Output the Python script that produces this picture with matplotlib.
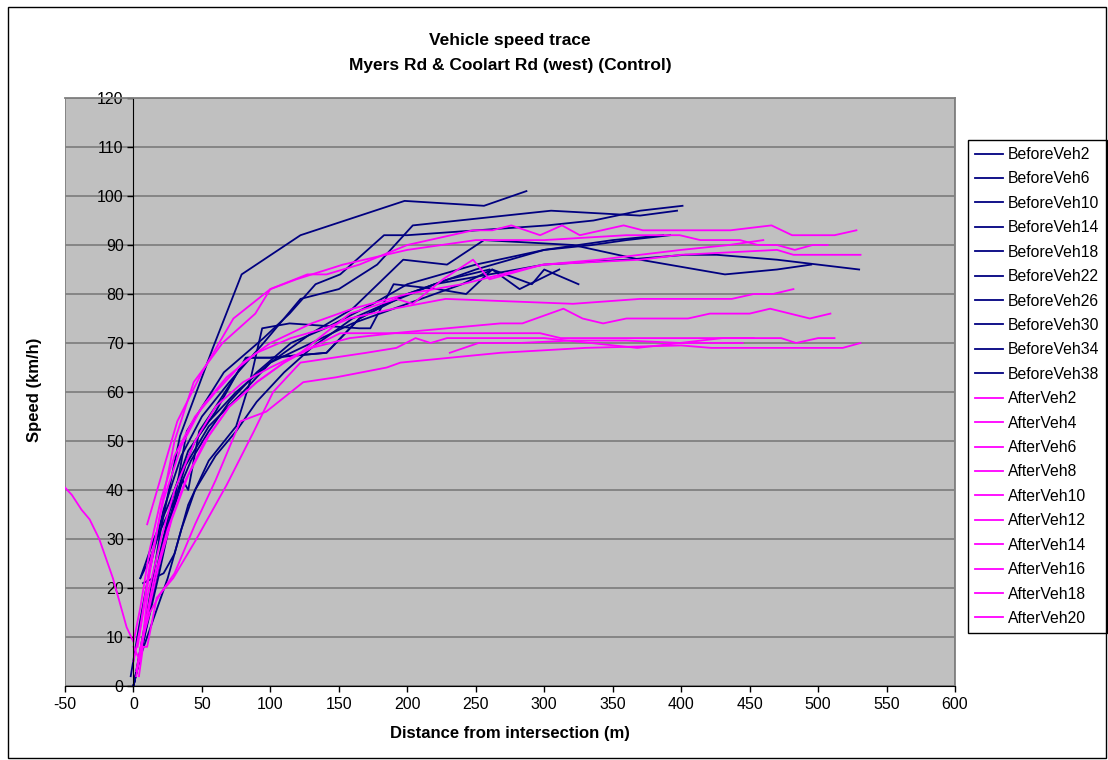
import matplotlib

matplotlib.use("Agg")
import matplotlib.pyplot as plt
from matplotlib.patches import Rectangle

plt.rcParams["font.family"] = ["Liberation Sans", "DejaVu Sans"]
plt.rcParams["axes.unicode_minus"] = False

TITLE = "Vehicle speed trace\nMyers Rd & Coolart Rd (west) (Control)"
X_LABEL = "Distance from intersection (m)"
Y_LABEL = "Speed (km/h)"
X_TICKS = [-50, 0, 50, 100, 150, 200, 250, 300, 350, 400, 450, 500, 550, 600]
Y_TICKS = [0, 10, 20, 30, 40, 50, 60, 70, 80, 90, 100, 110, 120]

BEFORE_LABELS = ["BeforeVeh2", "BeforeVeh6", "BeforeVeh10", "BeforeVeh14", "BeforeVeh18",
                 "BeforeVeh22", "BeforeVeh26", "BeforeVeh30", "BeforeVeh34", "BeforeVeh38"]
AFTER_LABELS = ["AfterVeh2", "AfterVeh4", "AfterVeh6", "AfterVeh8", "AfterVeh10",
                "AfterVeh12", "AfterVeh14", "AfterVeh16", "AfterVeh18", "AfterVeh20"]

# distance (m) / speed (km/h)
BEFORE_DIST = [
    [0, 10, 20, 34, 58, 79, 122, 198, 256, 287],
    [-2, 4, 12, 22, 35, 50, 70, 95, 122, 150, 178, 204, 305, 370, 397],
    [0, 8, 18, 28, 39, 66, 95, 114, 133, 151, 183, 200, 302, 336, 370, 401],
    [0, 6, 15, 25, 38, 55, 80, 100, 130, 160, 197, 229, 256, 321, 370, 432, 470, 495],
    [5, 15, 30, 45, 60, 82, 100, 141, 165, 185, 220, 260, 300, 360, 403, 426, 470, 530],
    [7, 22, 30, 40, 55, 75, 85, 94, 114, 165, 173, 190, 222, 243, 262, 282, 311],
    [0, 10, 20, 30, 40, 55, 75, 100, 130, 160, 200, 240, 262, 291, 300, 325],
    [0, 8, 18, 27, 36, 40, 48, 60, 83, 100, 141, 165, 200, 230, 260],
    [0, 5, 15, 25, 35, 45, 60, 75, 90, 110, 130, 160, 200, 250, 300, 350, 387],
    [5, 12, 20, 30, 42, 55, 70, 90, 115, 140, 175, 200, 250, 300, 335, 360, 392],
]
BEFORE_SPEED = [
    [0, 15, 32, 51, 69, 84, 92, 99, 98, 101],
    [2, 12, 24, 36, 47, 55, 62, 70, 79, 81, 86, 94, 97, 96, 97],
    [0, 10, 22, 35, 52, 64, 71, 76, 82, 84, 92, 92, 94, 95, 97, 98],
    [0, 8, 20, 33, 45, 53, 60, 66, 72, 77, 87, 86, 91, 90, 87, 84, 85, 86],
    [22, 30, 40, 50, 56, 67, 67, 68, 75, 78, 82, 84, 86, 87, 88, 88, 87, 85],
    [21, 23, 27, 37, 46, 53, 62, 73, 74, 73, 73, 82, 81, 80, 85, 81, 85],
    [0, 14, 28, 40, 48, 54, 60, 66, 70, 74, 78, 82, 85, 82, 85, 82],
    [0, 10, 24, 34, 42, 40, 52, 57, 67, 67, 68, 75, 80, 83, 85],
    [0, 6, 14, 22, 32, 40, 47, 52, 58, 64, 69, 75, 80, 85, 89, 91, 92],
    [22, 26, 32, 38, 46, 52, 58, 64, 70, 73, 78, 82, 86, 89, 90, 91, 92],
]
AFTER_DIST = [
    [10, 32, 50, 73, 100, 127, 141, 165, 200, 248, 262, 276, 297, 313, 326, 358, 372, 436,
     466, 481, 512, 528],
    [0, 5, 10, 20, 30, 45, 60, 80, 100, 122, 158, 192, 204, 226, 248, 260, 299, 370, 400,
     470, 482, 531],
    [3, 10, 20, 30, 44, 65, 89, 100, 119, 153, 200, 250, 300, 360, 399, 414, 443, 456, 470,
     483, 496, 507],
    [-50, -45, -38, -32, -25, -15, -5, 0, 5, 12, 20, 30, 45, 60, 80, 100, 130, 160, 200, 240,
     283, 300, 340, 400, 435, 460],
    [0, 5, 12, 22, 35, 50, 68, 90, 115, 140, 158, 190, 228, 321, 370, 437, 453, 467, 482],
    [3, 8, 15, 25, 38, 52, 70, 90, 110, 130, 158, 190, 268, 284, 314, 328, 343, 360, 405,
     421, 450, 465, 494, 509],
    [2, 10, 18, 28, 40, 55, 70, 90, 110, 122, 151, 200, 250, 297, 312, 355, 453],
    [4, 7, 10, 17, 29, 46, 68, 88, 102, 122, 170, 192, 206, 217, 229, 268, 300, 368, 430,
     455, 473, 484, 500, 512],
    [2, 6, 12, 20, 30, 45, 60, 78, 97, 124, 148, 185, 195, 268, 330, 400, 422, 456, 518,
     531],
    [231, 252, 282, 320, 360, 400, 445],
]
AFTER_SPEED = [
    [33, 54, 64, 75, 81, 84, 84, 86, 90, 93, 93, 94, 92, 94, 92, 94, 93, 93, 94, 92, 92, 93],
    [8, 5, 18, 30, 40, 50, 57, 62, 65, 68, 76, 79, 78, 83, 87, 83, 86, 87, 88, 89, 88, 88],
    [8, 20, 36, 50, 62, 70, 76, 81, 83, 86, 89, 91, 91, 92, 92, 91, 91, 90, 90, 89, 90, 90],
    [40.5, 39, 36, 34, 30, 22, 12, 9, 16, 28, 38, 47, 55, 60, 66, 70, 74, 77, 80, 82, 85, 86,
     87, 89, 90, 91],
    [5, 12, 25, 38, 49, 57, 63, 68, 71, 73, 75, 77, 79, 78, 79, 79, 80, 80, 81],
    [4, 12, 22, 32, 42, 50, 57, 62, 66, 69, 71, 72, 74, 74, 77, 75, 74, 75, 75, 76, 76, 77,
     75, 76],
    [2, 14, 24, 34, 43, 51, 57, 62, 66, 68, 72, 72, 72, 72, 71, 71, 71],
    [2, 8, 8, 18, 22, 30, 41, 52, 60, 66, 68, 69, 71, 70, 71, 71, 71, 69, 71, 71, 71, 70,
     71, 71],
    [3, 9, 15, 19, 23, 33, 42, 54, 56, 62, 63, 65, 66, 68, 69, 69.5, 69, 69, 69, 70],
    [68, 70, 70, 70.5, 70.5, 70, 70],
]

NAVY = "#000080"
MAGENTA = "#FF00FF"

fig = plt.figure(figsize=(11.08, 7.6), dpi=100)
fig.patches.append(Rectangle((8 / 1108, 2 / 760), 1098 / 1108, 751 / 760, transform=fig.transFigure,
                             fill=False, edgecolor="black", linewidth=1.0))
ax = fig.add_axes([65 / 1108, 74 / 760, 890 / 1108, 588 / 760])
ax.set_facecolor("#C0C0C0")

for dist, speed, label in zip(BEFORE_DIST, BEFORE_SPEED, BEFORE_LABELS):
    ax.plot(dist, speed, color=NAVY, lw=1.3, label=label)
for dist, speed, label in zip(AFTER_DIST, AFTER_SPEED, AFTER_LABELS):
    ax.plot(dist, speed, color=MAGENTA, lw=1.3, label=label)

ax.set_xlim(-50, 600)
ax.set_ylim(0, 120)
ax.set_xticks(X_TICKS)
ax.set_yticks(Y_TICKS)
ax.yaxis.grid(True, color="#808080", lw=1.3)
ax.set_axisbelow(True)
ax.spines["left"].set_position(("data", 0))
ax.spines["left"].set_color("black")
ax.spines["bottom"].set_color("black")
ax.spines["top"].set_color("#808080")
ax.spines["right"].set_color("#808080")
for s in ["top", "right"]:
    ax.spines[s].set_linewidth(1.3)
ax.add_patch(Rectangle((0, 0), 1, 1, transform=ax.transAxes, fill=False,
                       edgecolor="#808080", lw=1.3, zorder=0.5))
ax.tick_params(axis="both", direction="out", length=4, width=1, labelsize=11.5, colors="black")
ax.tick_params(axis="y", pad=3)
ax.tick_params(axis="x", pad=4)

ax.set_xlabel(X_LABEL, fontsize=12, fontweight="bold", labelpad=10)
fig.text(34 / 1108, 1 - 390 / 760, Y_LABEL, rotation=90, fontsize=12, fontweight="bold",
         ha="center", va="center")
fig.text(510 / 1108, 1 - 53 / 760, TITLE, fontsize=12.5, fontweight="bold", ha="center",
         va="center", linespacing=1.9)

ax.legend(loc="upper left", bbox_to_anchor=(968 / 1108, 1 - 140 / 760),
          bbox_transform=fig.transFigure, fontsize=11.3, frameon=True, fancybox=False,
          edgecolor="black", framealpha=1, borderaxespad=0, handlelength=1.8,
          handletextpad=0.3, labelspacing=0.6, borderpad=0.45)

fig.savefig("out.png", dpi=100)
